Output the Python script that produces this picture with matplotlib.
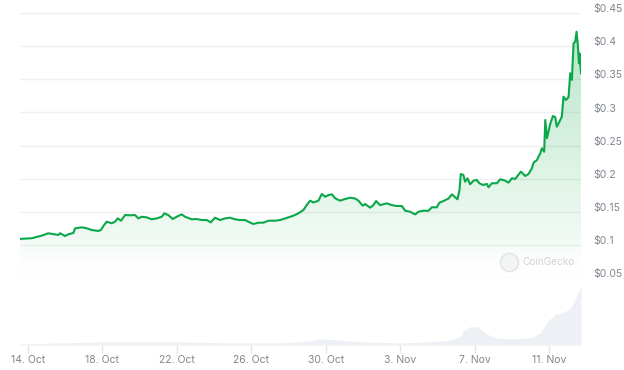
import numpy as np
import pandas as pd
import matplotlib
matplotlib.use("Agg")
import matplotlib.pyplot as plt
import matplotlib.dates as mdates
from matplotlib.colors import LinearSegmentedColormap
from matplotlib.transforms import ScaledTranslation

plt.rcParams['font.family'] = ['Inter', 'DejaVu Sans']

# price readings, days after 14 Oct 2024 00:00
days = [-0.43, -0.25, 0.20, 0.74, 1.09, 1.63, 1.72, 1.99, 2.17, 2.44, 2.53, 2.89, 3.16,
        3.42, 3.78, 3.92, 4.05, 4.23, 4.50, 4.68, 4.82, 5.00, 5.22, 5.48, 5.75, 5.93,
        6.11, 6.38, 6.65, 6.92, 7.19, 7.33, 7.54, 7.78, 7.99, 8.26, 8.44, 8.80, 9.07,
        9.34, 9.61, 9.82, 10.05, 10.32, 10.59, 10.86, 11.13, 11.40, 11.67, 11.84, 12.11,
        12.38, 12.65, 12.92, 13.28, 13.55, 13.82, 14.09, 14.26, 14.53, 14.80, 14.98,
        15.16, 15.34, 15.61, 15.79, 15.97, 16.15, 16.33, 16.51, 16.77, 17.04, 17.31,
        17.58, 17.76, 17.99, 18.12, 18.39, 18.56, 18.71, 18.92, 19.28, 19.55, 19.82,
        20.09, 20.27, 20.54, 20.81, 20.98, 21.25, 21.52, 21.70, 21.97, 22.11, 22.33,
        22.60, 22.78, 22.96, 23.08, 23.19, 23.26, 23.40, 23.49, 23.62, 23.76, 23.94,
        24.12, 24.26, 24.45, 24.66, 24.75, 24.93, 25.20, 25.38, 25.65, 25.82, 26.01,
        26.18, 26.49, 26.72, 26.90, 27.08, 27.17, 27.35, 27.53, 27.62, 27.74, 27.80,
        27.89, 28.06, 28.21, 28.33, 28.42, 28.56, 28.69, 28.78, 28.91, 29.05, 29.14,
        29.23, 29.32, 29.41, 29.48, 29.55, 29.61, 29.64, 29.72]
price = [0.109, 0.1093, 0.110, 0.114, 0.1175, 0.115, 0.1175, 0.1134, 0.116, 0.118, 0.125,
         0.1265, 0.125, 0.1225, 0.121, 0.1225, 0.1285, 0.135, 0.1326, 0.135, 0.140, 0.1365,
         0.1451, 0.1446, 0.1451, 0.140, 0.1425, 0.1415, 0.1386, 0.140, 0.1425, 0.1476,
         0.145, 0.139, 0.1425, 0.146, 0.1425, 0.1386, 0.139, 0.1375, 0.1375, 0.134, 0.141,
         0.1375, 0.140, 0.141, 0.1386, 0.1375, 0.1375, 0.135, 0.1315, 0.1335, 0.1335,
         0.1365, 0.1365, 0.1375, 0.140, 0.1425, 0.144, 0.1476, 0.1526, 0.160, 0.1667,
         0.164, 0.1667, 0.1768, 0.1727, 0.1752, 0.1762, 0.1703, 0.1667, 0.1692, 0.1712,
         0.170, 0.1667, 0.1591, 0.1617, 0.1561, 0.160, 0.1662, 0.160, 0.1627, 0.160,
         0.1587, 0.1587, 0.1516, 0.150, 0.146, 0.150, 0.1516, 0.1514, 0.1567, 0.1567,
         0.1637, 0.1662, 0.170, 0.1763, 0.1718, 0.1688, 0.1828, 0.207, 0.2055, 0.1954,
         0.2005, 0.1914, 0.1969, 0.198, 0.193, 0.1904, 0.192, 0.1869, 0.193, 0.193, 0.199,
         0.1969, 0.194, 0.2005, 0.1995, 0.2105, 0.204, 0.207, 0.2156, 0.224, 0.228, 0.2382,
         0.2458, 0.2406, 0.2885, 0.261, 0.282, 0.2945, 0.293, 0.2784, 0.286, 0.2935,
         0.3237, 0.3187, 0.323, 0.359, 0.349, 0.4043, 0.4067, 0.4218, 0.4017, 0.374, 0.389,
         0.359]

# volume readings (arbitrary units)
vol_days = [-0.43, 1.72, 3.87, 5.48, 8.17, 10.86, 13.55, 15.16, 15.70, 16.77, 17.85,
            20.00, 21.61, 22.69, 23.23, 23.39, 23.76, 24.19, 24.52, 25.11, 25.91, 26.99,
            27.53, 27.96, 28.33, 28.87, 29.14, 29.41, 29.72]
volume = [2, 4, 6, 6, 6, 4, 4, 8, 12, 10, 6, 4, 6, 10, 16, 28, 36, 36, 24, 14, 12, 14,
          24, 48, 60, 66, 72, 90, 114]

yticks = [0.05, 0.1, 0.15, 0.2, 0.25, 0.3, 0.35, 0.4, 0.45]
tick_dates = pd.date_range('2024-10-14', periods=8, freq='4D')

start = pd.Timestamp('2024-10-14')
x = mdates.date2num(start + pd.to_timedelta(days, unit='D'))
xv = mdates.date2num(start + pd.to_timedelta(vol_days, unit='D'))
x0, x1 = x[0], x[-1]

green = '#0aa84a'
label_col = '#80868f'

fig = plt.figure(figsize=(6.24, 3.70), dpi=100)
ax = fig.add_axes([20 / 624, 92 / 370, 561 / 624, 265 / 370])
axv = fig.add_axes([20 / 624, 25 / 370, 561 / 624, 58 / 370])

# price line with fading fill
grad = np.linspace(0, 1, 256).reshape(-1, 1)
cmap = LinearSegmentedColormap.from_list(
    'g', [(0.0, (1, 1, 1, 0)), (0.15, (0.0, 0.66, 0.25, 0.06)),
          (0.4, (0.0, 0.66, 0.25, 0.13)), (1.0, (0.0, 0.66, 0.25, 0.30))])
im = ax.imshow(grad, cmap=cmap, extent=[x0, x1, 0.05, 0.45], origin='lower',
               aspect='auto', zorder=1, interpolation='bilinear')
poly = ax.fill_between(x, price, 0.05, color='none', lw=0)
im.set_clip_path(poly.get_paths()[0], transform=ax.transData)
ax.plot(x, price, color=green, lw=1.5, zorder=3, solid_joinstyle='round')
ax.set_xlim(x0, x1)
ax.set_ylim(0.05, 0.45)

ax.set_yticks(yticks)
ax.set_yticklabels([f"${v:g}" for v in yticks])
ax.yaxis.tick_right()
ax.tick_params(axis='y', length=0, pad=9, labelsize=7.5, labelcolor=label_col)
for lab in ax.get_yticklabels():
    lab.set_transform(lab.get_transform() + ScaledTranslation(0, 3.5 / 72, fig.dpi_scale_trans))
ax.set_xticks([])
ax.grid(axis='y', color='#efefef', lw=1)
ax.set_axisbelow(True)
for s in ax.spines.values():
    s.set_visible(False)

# watermark
ax.scatter([0.872], [0.060], s=170, transform=ax.transAxes, facecolor='#f3f4f5',
           edgecolor='#e2e3e6', lw=1, zorder=2)
ax.text(0.895, 0.060, 'CoinGecko', transform=ax.transAxes, ha='left', va='center',
        fontsize=7.3, color='#d2d4d8', zorder=4)

# volume
axv.fill_between(xv, volume, 0, color='#edf0f4', lw=0)
axv.set_xlim(x0, x1)
axv.set_ylim(0, 114)
axv.set_yticks([])
axv.set_xticks(mdates.date2num(tick_dates))
axv.set_xticklabels([f"{d.day}. {d:%b}" for d in tick_dates])
axv.tick_params(axis='x', length=6, width=1, color='#e3e5e8', pad=1,
                labelsize=7.5, labelcolor=label_col)
for s in axv.spines.values():
    s.set_visible(False)
axv.patch.set_alpha(0)

fig.savefig('out.png', dpi=100)
